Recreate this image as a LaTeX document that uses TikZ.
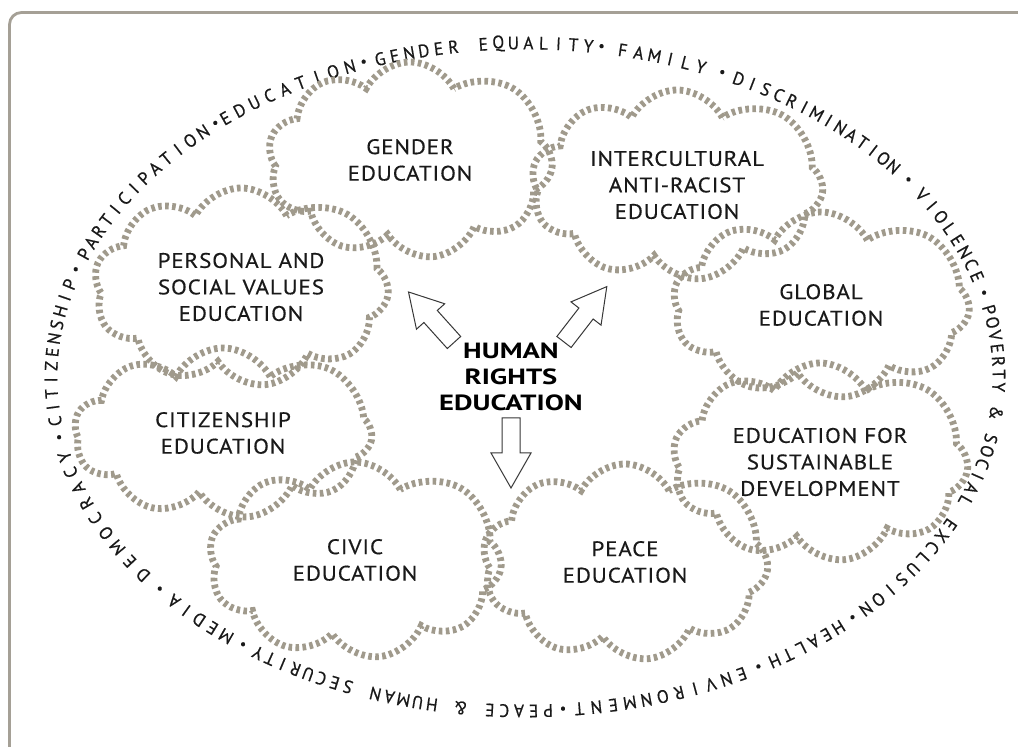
\documentclass[tikz,border=0pt]{standalone}
\usepackage{fontspec}
\setmainfont{PT Sans}
\newfontfamily\cloudfont[FakeStretch=1.1,LetterSpace=4,FakeBold=0.3]{PT Sans}
\newfontfamily\hrefont[FakeStretch=1.3]{PT Sans}
\newfontfamily\ringfont[FakeStretch=0.96,FakeBold=0.6]{PT Sans}
\usetikzlibrary{shapes.symbols}
\definecolor{cloudgray}{RGB}{160,154,140}
\definecolor{framegray}{RGB}{165,160,150}
\definecolor{inkgray}{RGB}{55,55,55}
\definecolor{textblack}{RGB}{25,25,25}
\tikzset{
  cloudbox/.style={cloud, cloud puffs=9.5, cloud puff arc=125, cloud ignores aspect,
    draw=cloudgray, line width=1.7pt, dash pattern=on 0.9pt off 0.85pt,
    align=center, text=textblack, inner sep=0pt,
    font=\cloudfont\fontsize{5.25}{6.625}\selectfont},
  blockarrow/.style={draw=inkgray, fill=white, line width=0.25pt, line join=miter},
  framebox/.style={draw=framegray, line width=0.7pt, rounded corners=3pt},
  hrebox/.style={align=center, text=black, font=\hrefont\bfseries\fontsize{5.5}{6.4}\selectfont},
  ringchar/.style={inner sep=0pt, text=textblack, anchor=center,
    font=\ringfont\fontsize{4.5}{4.5}\selectfont},
  ringbullet/.style={inner sep=0pt, text=textblack, anchor=center,
    font=\ringfont\fontsize{3.6}{3.6}\selectfont},
}
% ring ellipse of letter centres: centre (525,377), radii 474 and 334
\newcommand\ringword[5]{%
  \foreach \ch [count=\i] in {#5}{%
    \pgfmathsetmacro\rt{#2+(\i-1)*(#3-#2)/(#4-1)}%
    \node[ringchar, rotate={atan2(-334*cos(\rt),-474*sin(\rt))}] (#1-\i) at ({525+474*cos(\rt)},{377+334*sin(\rt)}) {\ch};
  }}
\newcommand\ringdot[2]{%
  \node[ringbullet] (#1) at ({525+474*cos(#2)},{377+334*sin(#2)}) {\textbullet};}
\begin{document}
\begin{tikzpicture}[x=0.25pt,y=-0.25pt]
\useasboundingbox (0,0) rectangle (1018,747);
\clip (0,0) rectangle (1018,747);
\fill[white] (0,0) rectangle (1018,747);
\draw[framebox] (9.5,12.5) rectangle (1040,775);

% ring of keywords (clockwise)
\ringword{media}{129.1}{137.8}{5}{M,E,D,I,A}
\ringdot{d1}{140.4}
\ringword{democ}{143.7}{166.2}{9}{D,E,M,O,C,R,A,C,Y}
\ringdot{d2}{169.4}
\ringword{citiz}{172.4}{196.1}{11}{C,I,T,I,Z,E,N,S,H,I,P}
\ringdot{d3}{198.6}
\ringword{partic}{201.6}{227.2}{13}{P,A,R,T,I,C,I,P,A,T,I,O,N}
\ringdot{d4}{229.2}
\ringword{educ}{230.8}{248.3}{9}{E,D,U,C,A,T,I,O,N}
\ringdot{d5}{250.1}
\ringword{gender}{252.2}{277.7}{15}{G,E,N,D,E,R,,E,Q,U,A,L,I,T,Y}
\ringdot{d6}{279.3}
\ringword{family}{281.9}{291.8}{6}{F,A,M,I,L,Y}
\ringdot{d7}{294.6}
\ringword{discr}{296.8}{321.0}{14}{D,I,S,C,R,I,M,I,N,A,T,I,O,N}
\ringdot{d8}{324.0}
\ringword{viol}{326.9}{342.5}{8}{V,I,O,L,E,N,C,E}
\ringdot{d9}{345.6}
\ringword{pov}{348.4}{404.0}{26}{P,O,V,E,R,T,Y,,{\&},,S,O,C,I,A,L,,E,X,C,L,U,S,I,O,N}
\ringdot{d10}{406.3}
\ringword{health}{408.6}{418.2}{6}{H,E,A,L,T,H}
\ringdot{d11}{420.5}
\ringword{envir}{422.8}{443.4}{11}{E,N,V,I,R,O,N,M,E,N,T}
\ringdot{d12}{445.4}
\ringword{peace}{447.2}{484.3}{22}{P,E,A,C,E,,{\&},,H,U,M,A,N,,S,E,C,U,R,I,T,Y}
\ringdot{d13}{486.5}

% clouds
\node[cloudbox, minimum width=71.25pt, minimum height=49pt] (gender) at (410,160) {GENDER\\EDUCATION};
\node[cloudbox, minimum width=73pt, minimum height=47.5pt] (intercult) at (677,185) {INTERCULTURAL\\ANTI-RACIST\\EDUCATION};
\node[cloudbox, minimum width=73.75pt, minimum height=49.5pt] (personal) at (241,287) {PERSONAL AND\\SOCIAL VALUES\\EDUCATION};
\node[cloudbox, minimum width=74.25pt, minimum height=46.5pt] (global) at (821,305) {GLOBAL\\EDUCATION};
\node[cloudbox, minimum width=74.5pt, minimum height=42.5pt] (citizen) at (223,433) {CITIZENSHIP\\EDUCATION};
\node[cloudbox, minimum width=74pt, minimum height=49.5pt] (esd) at (820,462) {EDUCATION FOR\\SUSTAINABLE\\DEVELOPMENT};
\node[cloudbox, minimum width=73.25pt, minimum height=49pt] (civic) at (355,560) {CIVIC\\EDUCATION};
\node[cloudbox, minimum width=71.5pt, minimum height=49pt] (peace) at (625,562) {PEACE\\EDUCATION};

% centre
\node[hrebox] (hre) at (511,377) {HUMAN\\RIGHTS\\EDUCATION};

% block arrows
\draw[blockarrow, shift={(454,342.5)}, rotate=132] (0,-9) -- (35,-9) -- (35,-19) -- (68,0) -- (35,19) -- (35,9) -- (0,9) -- cycle;
\draw[blockarrow, shift={(564,342)}, rotate=52.3] (0,-9) -- (36,-9) -- (36,-19) -- (70,0) -- (36,19) -- (36,9) -- (0,9) -- cycle;
\draw[blockarrow, shift={(511,418)}, rotate=-90] (0,-9) -- (35,-9) -- (35,-20) -- (70,0) -- (35,20) -- (35,9) -- (0,9) -- cycle;
\end{tikzpicture}
\end{document}
